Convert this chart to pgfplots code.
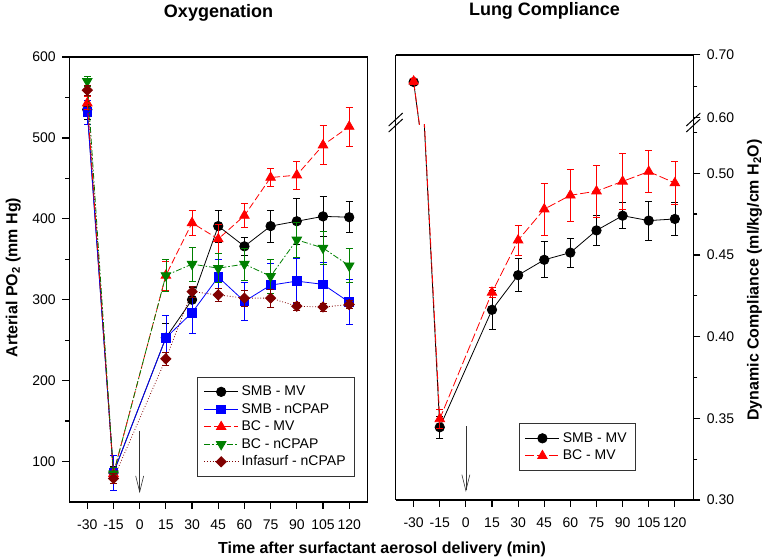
\documentclass[border=0pt]{standalone}
\usepackage{fontspec}
\setmainfont{Liberation Sans}
\usepackage{pgfplots}
\pgfplotsset{compat=1.18}
\usetikzlibrary{arrows.meta}

\definecolor{dkred}{RGB}{128,0,0}
\definecolor{dkgreen}{RGB}{0,128,0}

\pgfplotsset{
  panel/.style={
    scale only axis,
    xmin=-40.3, xmax=130.6,
    xtick={-30,-15,...,120},
    tick align=outside,
    axis line style={line width=1.5pt},
    tick style={line width=1.2pt, black},
    major tick length=7pt, minor tick length=4pt,
    tick label style={font=\fontsize{14}{16}\selectfont},
    xticklabel style={yshift=-7pt},
    /pgf/number format/assume math mode=true,
    clip marker paths=true,
    legend cell align=left,
    legend image code/.code={\draw[mark repeat=2,mark phase=2] plot coordinates {(0pt,0pt) (17pt,0pt) (34pt,0pt)};},
  },
  leg/.style={draw=black!80, line width=0.8pt, inner xsep=6pt, inner ysep=6pt,
    font=\fontsize{14}{17}\selectfont,
    nodes={inner sep=3pt, text height=9.5pt, text depth=2pt}},
  ser/.style={line width=0.8pt,
    error bars/y dir=both, error bars/y explicit,
    error bars/error bar style={solid, line width=0.7pt},
    error bars/error mark options={solid, line width=0.7pt, mark size=3.5pt, rotate=90}},
}

\begin{document}
\begin{tikzpicture}[x=1pt,y=1pt]
\useasboundingbox (0,0) rectangle (765,559);

% left panel: oxygenation
\begin{axis}[panel,
  at={(69.3pt,57pt)}, anchor=south west,
  width=298.4pt, height=445pt,
  ymin=50, ymax=600,
  ytick={100,200,...,600}, minor ytick={150,250,...,550},
  xtick pos=bottom, ytick pos=left,
  yticklabel style={xshift=-3pt},
  legend style={leg, at={(0.9574,0.0562)}, anchor=south east},
]
\addplot[ser, black, mark=*, mark size=4.7pt] coordinates {
(-30,535) +- (0,12) (-15,86) +- (0,8) (15,253) +- (0,18) (30,300) +- (0,15)
(45,391) +- (0,20) (60,366) +- (0,11) (75,391) +- (0,20) (90,397) +- (0,28)
(105,403) +- (0,25) (120,402) +- (0,19)};
\addlegendentry{SMB - MV}
\addplot[ser, blue, mark=square*, mark size=4.3pt] coordinates {
(-30,532) +- (0,15) (-15,86) +- (0,22) (15,253) +- (0,28) (30,284) +- (0,25)
(45,328) +- (0,22) (60,298) +- (0,24) (75,318) +- (0,27) (90,323) +- (0,28)
(105,319) +- (0,27) (120,297) +- (0,28)};
\addlegendentry{SMB - nCPAP}
\addplot[ser, red, dash pattern=on 7pt off 3pt, mark=triangle*, mark size=5.5pt, mark options={solid}] coordinates {
(-30,543) +- (0,8) (-15,85) +- (0,8) (15,330) +- (0,18) (30,395) +- (0,16)
(45,375) +- (0,18) (60,404) +- (0,15) (75,451) +- (0,11) (90,454) +- (0,17)
(105,491) +- (0,24) (120,514) +- (0,24)};
\addlegendentry{BC - MV}
\addplot[ser, dkgreen, dash pattern=on 6pt off 2pt on 1.5pt off 2pt, mark=triangle*, mark size=5.5pt, mark options={solid, rotate=180}] coordinates {
(-30,570) +- (0,6) (-15,85) +- (0,8) (15,330) +- (0,20) (30,344) +- (0,21)
(45,339) +- (0,18) (60,344) +- (0,20) (75,329) +- (0,21) (90,374) +- (0,22)
(105,364) +- (0,20) (120,342) +- (0,21)};
\addlegendentry{BC - nCPAP}
\addplot[ser, dkred, dotted, mark=square*, mark size=3.6pt, mark options={solid, rotate=45}] coordinates {
(-30,559) +- (0,6) (-15,79) +- (0,6) (15,227) +- (0,8) (30,310) +- (0,7)
(45,306) +- (0,8) (60,302) +- (0,10) (75,302) +- (0,11) (90,292) +- (0,5)
(105,291) +- (0,5) (120,294) +- (0,5)};
\addlegendentry{Infasurf - nCPAP}
\draw[-{Straight Barb[length=16pt,width=8pt]}, line width=0.6pt, black!80] (axis cs:0,138) -- (axis cs:0,61);
\end{axis}

% right panel, lower part
\begin{axis}[panel,
  at={(395.7pt,59pt)}, anchor=south west,
  width=297.6pt, height=375.8pt,
  ymin=0.30, ymax=0.53,
  ytick={0.30,0.35,...,0.50}, minor ytick={0.325,0.375,...,0.525},
  axis x line*=bottom,
  xtick pos=bottom, ytick pos=right, yticklabel pos=right,
  yticklabel style={xshift=3pt, /pgf/number format/.cd, fixed, fixed zerofill, precision=2},
  legend style={leg, at={(0.8075,0.0772)}, anchor=south east},
]
\addplot[ser, black, mark=*, mark size=4.7pt] coordinates {
(-30,0.657) +- (0,0.004) (-15,0.3445) +- (0,0.007) (15,0.4164) +- (0,0.012)
(30,0.4376) +- (0,0.010) (45,0.447) +- (0,0.011) (60,0.4514) +- (0,0.009)
(75,0.465) +- (0,0.009) (90,0.474) +- (0,0.008) (105,0.471) +- (0,0.012)
(120,0.472) +- (0,0.010)};
\addlegendentry{SMB - MV}
\addplot[ser, red, dash pattern=on 9pt off 3pt, mark=triangle*, mark size=5.5pt, mark options={solid}] coordinates {
(-30,0.658) +- (0,0.004) (-15,0.3496) +- (0,0.006) (15,0.427) +- (0,0.003)
(30,0.459) +- (0,0.009) (45,0.478) +- (0,0.016) (60,0.4865) +- (0,0.016)
(75,0.489) +- (0,0.016) (90,0.495) +- (0,0.017) (105,0.501) +- (0,0.013)
(120,0.494) +- (0,0.013)};
\addlegendentry{BC - MV}
\draw[-{Straight Barb[length=16pt,width=8pt]}, line width=0.6pt, black!80] (axis cs:0,0.345) -- (axis cs:0,0.305);
\end{axis}

% right panel, upper part above the break
\begin{axis}[panel,
  at={(395.7pt,434.8pt)}, anchor=south west,
  width=297.6pt, height=69.3pt,
  ymin=0.59, ymax=0.70,
  ytick={0.60,0.70}, minor ytick={0.65},
  axis x line*=top, xtick=\empty,
  ytick pos=right, yticklabel pos=right,
  yticklabel style={xshift=3pt, /pgf/number format/.cd, fixed, fixed zerofill, precision=2},
]
\addplot[ser, black, mark=*, mark size=4.7pt] coordinates {
(-30,0.657) +- (0,0.004) (-15,0.3445) +- (0,0.007) (15,0.4164) +- (0,0.012)};
\addplot[ser, red, dash pattern=on 9pt off 3pt, mark=triangle*, mark size=5.5pt, mark options={solid}] coordinates {
(-30,0.658) +- (0,0.004) (-15,0.3496) +- (0,0.006) (15,0.427) +- (0,0.003)};
\end{axis}

% break marks
\foreach \bx in {395.7,693.3} {
  \draw[line width=1pt] (\bx-7,427) -- (\bx+7,440);
  \draw[line width=1pt] (\bx-7,433) -- (\bx+7,446);
}

\node[font=\fontsize{18}{21}\selectfont\bfseries, anchor=base] at (218.5,541) {Oxygenation};
\node[font=\fontsize{18}{21}\selectfont\bfseries, anchor=base] at (544.5,543) {Lung Compliance};
\node[font=\fontsize{16}{19}\selectfont\bfseries, anchor=base] at (382,5.7) {Time after surfactant aerosol delivery (min)};
\node[font=\fontsize{16}{19}\selectfont\bfseries, rotate=90, anchor=base] at (17.3,281.5) {Arterial PO\textsubscript{2} (mm Hg)};
\node[font=\fontsize{16}{19}\selectfont\bfseries, rotate=90, anchor=base] at (758.5,279) {Dynamic Compliance (ml/kg/cm H\textsubscript{2}O)};
\end{tikzpicture}
\end{document}
